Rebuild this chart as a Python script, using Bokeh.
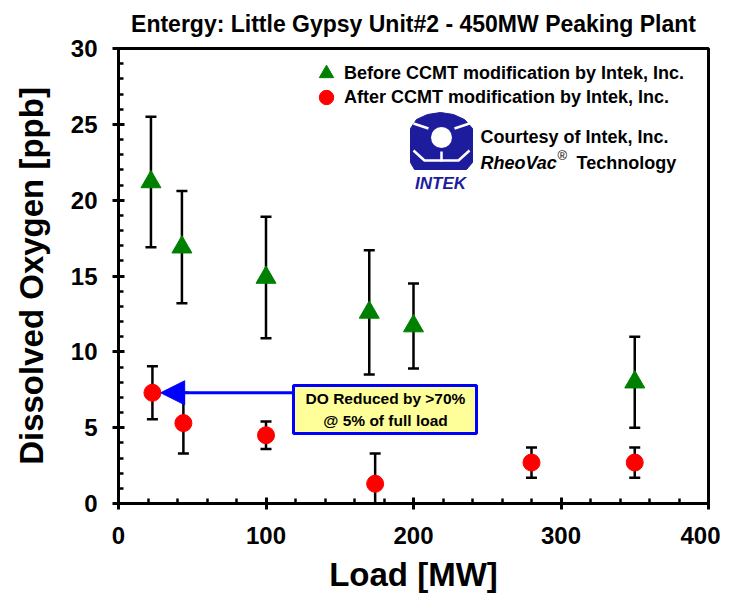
from bokeh.plotting import figure
from bokeh.models import (FixedTicker, Label, BoxAnnotation, Arrow, NormalHead,
                          Legend, LegendItem, Range1d)
from bokeh.embed import file_html
from bokeh.resources import INLINE

# ---------------- data ----------------
title_text = "Entergy: Little Gypsy Unit#2 - 450MW Peaking Plant"
x_label = "Load [MW]"
y_label = "Dissolved Oxygen [ppb]"
x_ticks = [0, 100, 200, 300, 400]
x_minor = [0, 20, 40, 60, 80, 100, 120, 140, 160, 180, 200, 220, 240, 260, 280,
           300, 320, 340, 360, 380, 400]
y_ticks = [0, 5, 10, 15, 20, 25, 30]
y_minor = list(range(0, 31))

before_load = [22, 43, 100, 170, 200, 350]
before_do = [21.2, 16.9, 14.9, 12.6, 11.7, 8.0]
before_err = [4.3, 3.7, 4.0, 4.1, 2.8, 3.0]

after_load = [23, 44, 100, 174, 280, 350]
after_do = [7.3, 5.3, 4.5, 1.3, 2.7, 2.7]
after_err = [1.75, 2.0, 0.9, 2.0, 1.0, 1.0]

legend_labels = ["Before CCMT modification by Intek, Inc.",
                 "After CCMT modification by Intek, Inc."]
note_lines = ["DO Reduced by >70%", "@ 5% of full load"]
credit_line1 = "Courtesy of Intek, Inc."
credit_brand = "RheoVac"
credit_reg = "\u00ae"
credit_tail = "Technology"
logo_text = "INTEK"

FONT = "Liberation Sans"
GREEN = "#008000"
RED = "#ff0000"
LOGO_BLUE = "#1c1c9c"

# page-pixel -> data helpers (for decorations only)
def dx(px):
    return (px - 118) / 1.475

def dy(py):
    return (503 - py) / 15.1667

p = figure(width=720, height=599, x_range=Range1d(0, 400), y_range=Range1d(0, 30),
           output_backend="svg", toolbar_location=None,
           min_border_left=118, min_border_right=12, min_border_top=48,
           min_border_bottom=96)

p.title.text = title_text
p.title.align = "center"
p.title.vertical_align = "top"
p.title.offset = 10
p.title.standoff = 19
p.title.text_font = FONT
p.title.text_font_size = "23px"
p.title.text_font_style = "bold"
p.title.text_color = "black"

p.grid.visible = False
p.outline_line_color = "black"
p.outline_line_width = 3
p.outline_line_alpha = 1

p.xaxis.ticker = FixedTicker(ticks=x_ticks, minor_ticks=x_minor)
p.yaxis.ticker = FixedTicker(ticks=y_ticks, minor_ticks=y_minor)
for ax in (p.xaxis, p.yaxis):
    ax.axis_line_width = 3
    ax.major_tick_line_width = 3
    ax.minor_tick_line_width = 2.5
    ax.major_tick_in = 6
    ax.major_tick_out = 6
    ax.minor_tick_in = 5
    ax.minor_tick_out = 0
    ax.major_label_text_font = FONT
    ax.major_label_text_font_size = "24px"
    ax.major_label_text_font_style = "bold"
    ax.major_label_text_color = "black"
    ax.axis_label_text_font = FONT
    ax.axis_label_text_font_size = "33px"
    ax.axis_label_text_font_style = "bold"
    ax.axis_label_text_color = "black"
p.xaxis.axis_label = x_label
p.yaxis.axis_label = y_label
p.xaxis.major_label_standoff = 17
p.yaxis.major_label_standoff = 15
p.xaxis.axis_label_standoff = 9
p.yaxis.axis_label_standoff = 18

# ---------------- logo & credits (decoration) ----------------
outer = [(410, 128), (416, 119), (427, 114), (440, 112), (453, 114), (464, 119),
         (472, 128), (472, 162), (466, 169), (414, 169), (410, 162)]
p.patch([dx(a) for a, b in outer], [dy(b) for a, b in outer],
        fill_color=LOGO_BLUE, line_color=LOGO_BLUE)
p.scatter([dx(441)], [dy(137)], marker="circle", size=21, fill_color="white",
          line_color=None)
spokes_x = [[dx(428), dx(413)], [dx(454), dx(469)], [dx(441), dx(441)],
            [dx(413), dx(424), dx(458), dx(469)]]
spokes_y = [[dy(128), dy(123)], [dy(128), dy(123)], [dy(151), dy(161)],
            [dy(150), dy(160), dy(160), dy(150)]]
p.multi_line(spokes_x, spokes_y, line_color="white", line_width=2.5)
p.add_layout(Label(x=dx(440), y=dy(183), text=logo_text, text_align="center",
                   text_baseline="middle", text_font=FONT, text_font_size="17px",
                   text_font_style="bold italic", text_color=LOGO_BLUE))
p.add_layout(Label(x=dx(480), y=dy(136), text=credit_line1, text_align="left",
                   text_baseline="middle", text_font=FONT, text_font_size="18px",
                   text_font_style="bold", text_color="black"))
p.add_layout(Label(x=dx(480), y=dy(162), text=credit_brand, text_align="left",
                   text_baseline="middle", text_font=FONT, text_font_size="18px",
                   text_font_style="bold italic", text_color="black"))
p.add_layout(Label(x=dx(557), y=dy(155), text=credit_reg, text_align="left",
                   text_baseline="middle", text_font=FONT, text_font_size="13px",
                   text_font_style="normal", text_color="black"))
p.add_layout(Label(x=dx(576), y=dy(162), text=credit_tail, text_align="left",
                   text_baseline="middle", text_font=FONT, text_font_size="18px",
                   text_font_style="bold", text_color="black"))

# ---------------- error bars ----------------
b_lo = [v - e for v, e in zip(before_do, before_err)]
b_hi = [v + e for v, e in zip(before_do, before_err)]
a_lo = [v - e for v, e in zip(after_do, after_err)]
a_hi = [v + e for v, e in zip(after_do, after_err)]
for xs, lo, hi in ((before_load, b_lo, b_hi), (after_load, a_lo, a_hi)):
    p.segment(x0=xs, y0=lo, x1=xs, y1=hi, line_color="black", line_width=2.5)
    p.scatter(xs, hi, marker="dash", size=11, line_color="black", line_width=2.5)
    p.scatter(xs, lo, marker="dash", size=11, line_color="black", line_width=2.5)

tri = p.scatter(before_load, before_do, marker="triangle", size=20,
                fill_color=GREEN, line_color=GREEN)
cir = p.scatter(after_load, after_do, marker="circle", size=17,
                fill_color=RED, line_color=RED)

legend_style = dict(orientation="vertical", border_line_alpha=0,
                    background_fill_alpha=0, padding=0, margin=0, spacing=0,
                    glyph_width=36, glyph_height=36, label_standoff=-4,
                    label_text_font=FONT, label_text_font_size="18px",
                    label_text_font_style="bold", label_text_color="black")
p.add_layout(Legend(items=[LegendItem(label=legend_labels[0], renderers=[tri])],
                    location=(190, 412), **legend_style))
p.add_layout(Legend(items=[LegendItem(label=legend_labels[1], renderers=[cir])],
                    location=(190, 388), **legend_style))

# ---------------- annotation box & arrow ----------------
box = BoxAnnotation(left=dx(293), right=dx(476), top=dy(385), bottom=dy(433),
                    fill_color="#ffff99", fill_alpha=1, line_color="#0000ff",
                    line_width=3, line_alpha=1)
p.add_layout(box)
p.add_layout(Arrow(end=NormalHead(size=24, fill_color="#0000ff", line_color="#0000ff"),
                   x_start=dx(293), y_start=after_do[0],
                   x_end=after_load[0] + 5.6, y_end=after_do[0],
                   line_color="#0000ff", line_width=3))
p.add_layout(Label(x=dx(385), y=dy(398), text=note_lines[0], text_align="center",
                   text_baseline="middle", text_font=FONT, text_font_size="15.5px",
                   text_font_style="bold", text_color="black"))
p.add_layout(Label(x=dx(385), y=dy(420), text=note_lines[1], text_align="center",
                   text_baseline="middle", text_font=FONT, text_font_size="15.5px",
                   text_font_style="bold", text_color="black"))

open("out.html", "w").write(file_html(p, INLINE))
